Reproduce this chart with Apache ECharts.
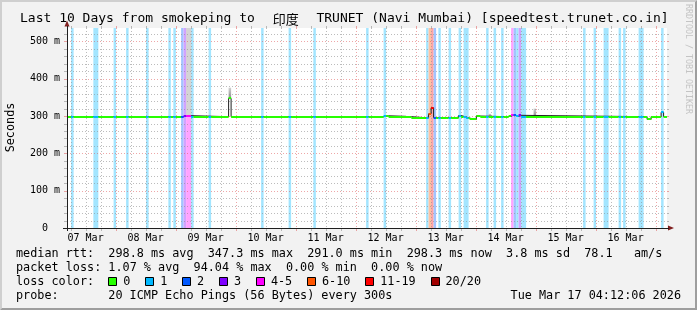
<!DOCTYPE html>
<html>
<head>
<meta charset="utf-8">
<script src="https://cdn.jsdelivr.net/npm/echarts@6/dist/echarts.min.js"></script>
<style>
html,body{margin:0;padding:0;background:#f2f2f2;}
#c{width:697px;height:310px;}
</style>
</head>
<body>
<div id="c"></div>
<script>
// ---------------- data ----------------
// x axis is "hours since 07 Mar 00:00"
const axisStartHour = 4.56;
const axisEndHour = 244.56;
const dayLabels = ['07 Mar','08 Mar','09 Mar','10 Mar','11 Mar','12 Mar','13 Mar','14 Mar','15 Mar','16 Mar'];
const labelHours = [12, 36, 60, 84, 108, 132, 156, 180, 204, 228];
const yMax = 536;                 // ms
const yTickValues = [0, 100, 200, 300, 400, 500];

const lossLabels = ['0','1','2','3','4-5','6-10','11-19','20/20'];
const lossColors = ['#26ff00','#00b8ff','#0059ff','#7e00ff','#ff00ff','#ff5500','#ff0000','#a10000'];

// loss bars: [start hour, duration hours, loss level index]
const lossBars = [
  [6.2,1,1],[15.1,2,1],[23.2,1,1],[28.2,1,1],[36.2,1,1],[45.1,1,1],[47.1,1,1],
  [50.2,1,2],[51.2,1,3],[52.2,2,4],[54.2,1,1],[61.2,1,1],[82.2,1,1],[93.2,1,1],
  [103.1,1,1],[124.2,1,1],[131.2,1,1],[148.2,1,1],[149.2,1,5],[150.2,1,6],[151.2,1,2],
  [153.1,1,1],[157.2,1,1],[161.2,1,1],[163.2,2,1],[172.2,1,1],[175.2,1,1],[178.2,1,1],
  [182.2,1,4],[183.2,1,2],[184.2,1,1],[185.2,1,3],[186.2,2,1],[211.0,1,1],[215.2,1,1],
  [219.2,2,1],[225.2,1,1],[227.0,1,1],[233.2,2,1],[242.2,1,1]
];

// median rtt runs: [start hour, end hour, median ms]
const medianRuns = [
  [4.56,51.2,298.3],[51.2,54.2,301],[54.2,69.2,298.3],[69.2,70.2,347.3],[70.2,131.2,298.3],
  [131.2,133.2,300.5],[133.2,142.3,298.3],[142.3,149.2,295],[149.2,150.2,306],[150.2,151.2,322],
  [151.2,161.2,296],[161.2,162.2,301.5],[162.2,164.2,297.5],[164.2,165.6,294.5],[165.6,168.3,291],
  [168.3,169.9,300],[169.9,181.2,298.3],[181.2,182.2,299.5],[182.2,183.2,302.5],[183.2,184.2,302],
  [184.2,185.2,299],[185.2,186.2,302],[186.2,236.6,298.3],[236.6,238.2,291],[238.2,242.2,298.3],
  [242.2,243.2,310],[243.2,244.56,298.3]
];

// smoke (ping spread): [start hour, end hour, low ms, high ms]
const smokeSpans = [
  [52.2,54.2,301,536],[69.2,70.2,347.3,376],[133.2,140.2,298.3,302],
  [173.2,174.2,298.3,306],[191.2,192.2,298.3,320],[195.2,196.2,298.3,302]
];

const titleParts = ['Last 10 Days from smokeping to ', '印度', ' TRUNET (Navi Mumbai) [speedtest.trunet.co.in]'];
const rttStats = 'median rtt:  298.8 ms avg  347.3 ms max  291.0 ms min  298.3 ms now  3.8 ms sd  78.1   am/s';
const lossStats = 'packet loss: 1.07 % avg  94.04 % max  0.00 % min  0.00 % now';
const probeText = '20 ICMP Echo Pings (56 Bytes) every 300s';
const dateText = 'Tue Mar 17 04:12:06 2026';

// ---------------- rendering ----------------
const FONT = '"DejaVu Sans Mono", monospace';
const GRID_COL = 'rgba(143,143,143,0.6)';
const MGRID_COL = 'rgba(222,79,79,0.5)';
const DASH = [1,2];

function hexRgb(h){ return [1,3,5].map(i=>parseInt(h.slice(i,i+2),16)); }
function pale(h, a){ return 'rgb(' + hexRgb(h).map(v=>Math.round(255-(255-v)*a)).join(',') + ')'; }

// split the median into segments coloured by loss level
const edgeSet = new Set();
medianRuns.forEach(r=>{edgeSet.add(r[0]); edgeSet.add(r[1]);});
lossBars.forEach(b=>{edgeSet.add(b[0]); edgeSet.add(+(b[0]+b[1]).toFixed(3));});
const edges = [...edgeSet].filter(e=>e>=axisStartHour && e<=axisEndHour).sort((a,b)=>a-b);
const medianSegments = [];
for (let i=0;i<edges.length-1;i++){
  const a=edges[i], b=edges[i+1], m=(a+b)/2;
  const run = medianRuns.find(r=>m>=r[0] && m<r[1]);
  if (!run) continue;
  const bar = lossBars.find(x=>m>=x[0] && m<x[0]+x[1]);
  medianSegments.push([a,b,run[2], bar ? bar[2] : 0]);
}
const stepLine = medianRuns.map(r=>[r[0], r[2]]);
stepLine.push([medianRuns[medianRuns.length-1][1], medianRuns[medianRuns.length-1][2]]);

const gridHours = [];
for (let h=6; h<axisEndHour; h+=6) if (h>axisStartHour) gridHours.push(h);
const gridValues = [];
for (let v=20; v<yMax; v+=20) gridValues.push(v);

const chart = echarts.init(document.getElementById('c'), null, {renderer:'canvas'});

const legendY = [254, 268, 282, 296];
const CHW = 7.1;           // monospace advance of legend font
const LX = 16;
const legendFont = '11.8px ' + FONT;

const graphics = [];
// 3D frame
graphics.push({type:'polygon', z:100, silent:true, shape:{points:[[0,0],[697,0],[695,2],[2,2],[2,308],[0,310]]}, style:{fill:'#cfcfcf'}});
graphics.push({type:'polygon', z:100, silent:true, shape:{points:[[697,0],[697,310],[0,310],[2,308],[695,308],[695,2]]}, style:{fill:'#9e9e9e'}});
// title
graphics.push({type:'text', z:100, x:20, y:19, style:{
  text:'{a|'+titleParts[0]+'}{c|'+titleParts[1]+'}{a|'+titleParts[2]+'}',
  verticalAlign:'middle', align:'left',
  rich:{a:{font:'13px '+FONT, fill:'#000'}, c:{font:'13px "Noto Sans CJK SC"', fill:'#000', width:46, align:'center'}}
}});
// y axis name
graphics.push({type:'text', z:100, x:11, y:127.5, rotation:Math.PI/2, style:{text:'Seconds', font:'11.8px '+FONT, fill:'#000', align:'center', verticalAlign:'middle'}});
// watermark
graphics.push({type:'text', z:100, x:688, y:59, rotation:-Math.PI/2, style:{text:'RRDTOOL / TOBI OETIKER', font:'8.3px '+FONT, fill:'#c4c4c4', align:'center', verticalAlign:'middle'}});
// axis arrows
graphics.push({type:'polygon', z:100, silent:true, shape:{points:[[64.5,26.5],[69.5,26.5],[67,20.5]]}, style:{fill:'#801f1f'}});
graphics.push({type:'polygon', z:100, silent:true, shape:{points:[[668,225.5],[668,230.5],[674,228]]}, style:{fill:'#801f1f'}});
graphics.push({type:'line', z:100, silent:true, shape:{x1:67.5,y1:26,x2:67.5,y2:28}, style:{stroke:'#1f1f1f',lineWidth:1}});
graphics.push({type:'line', z:100, silent:true, shape:{x1:667,y1:228.5,x2:669,y2:228.5}, style:{stroke:'#1f1f1f',lineWidth:1}});
graphics.push({type:'line', z:100, silent:true, shape:{x1:63,y1:228.5,x2:67,y2:228.5}, style:{stroke:'#1f1f1f',lineWidth:1}});
graphics.push({type:'line', z:100, silent:true, shape:{x1:67.5,y1:228,x2:67.5,y2:231}, style:{stroke:'#1f1f1f',lineWidth:1}});
// legend lines
function txt(t, x, y){ graphics.push({type:'text', z:100, x:x, y:y, style:{text:t, font:legendFont, fill:'#000', align:'left', verticalAlign:'middle'}}); }
txt(rttStats, LX, legendY[0]);
txt(lossStats, LX, legendY[1]);
txt('loss color:', LX, legendY[2]);
let bx = LX + 13*CHW;
lossLabels.forEach((lab, i)=>{
  graphics.push({type:'rect', z:100, silent:true, shape:{x:Math.round(bx)+0.5, y:legendY[2]-4.5, width:8, height:8}, style:{fill:lossColors[i], stroke:'#000', lineWidth:1}});
  txt(lab, bx + 15, legendY[2]);
  bx = bx + 15 + lab.length*CHW + 14.8;
});
txt('probe:', LX, legendY[3]);
txt(probeText, LX + 13*CHW, legendY[3]);
graphics.push({type:'text', z:100, x:681, y:legendY[3], style:{text:dateText, font:legendFont, fill:'#000', align:'right', verticalAlign:'middle'}});

const option = {
  animation:false,
  backgroundColor:'#f2f2f2',
  grid:{left:67, right:30, top:28, bottom:82, show:true, backgroundColor:'#ffffff', borderWidth:0},
  xAxis:{
    type:'value', min:axisStartHour, max:axisEndHour, z:10,
    axisLine:{show:true, onZero:false, lineStyle:{color:'#1f1f1f', width:1}},
    axisTick:{show:false}, splitLine:{show:false},
    axisLabel:{customValues:labelHours, formatter:v=>dayLabels[labelHours.indexOf(v)] || '', fontFamily:FONT, fontSize:10, color:'#000', margin:5}
  },
  yAxis:{
    type:'value', min:0, max:yMax, z:10,
    axisLine:{show:true, lineStyle:{color:'#1f1f1f', width:1}},
    axisTick:{show:false}, splitLine:{show:false},
    axisLabel:{customValues:yTickValues, formatter:v=> v===0 ? '0  ' : v + ' m', fontFamily:FONT, fontSize:10, color:'#000', margin:7}
  },
  graphic:graphics,
  series:[
    { // loss background bars
      type:'custom', z:1, silent:true,
      data:lossBars,
      renderItem:(p, api)=>{
        const s=api.value(0), d=api.value(1), lvl=api.value(2);
        const a=api.coord([s,yMax]), b=api.coord([s+d,0]);
        return {type:'rect', shape:{x:a[0], y:a[1], width:b[0]-a[0], height:b[1]-a[1]}, style:{fill:pale(lossColors[lvl],0.36)}};
      }
    },
    { // smoke
      type:'custom', z:2, silent:true,
      data:smokeSpans,
      renderItem:(p, api)=>{
        const s=api.value(0), e=api.value(1), lo=api.value(2), hi=api.value(3);
        const a=api.coord([s,hi]), b=api.coord([e,lo]);
        const h=b[1]-a[1];
        const fill = (hi-lo) > 100 ? '#d4d4d4'
          : new echarts.graphic.LinearGradient(0,0,0,1,[{offset:0,color:'#d2d2d2'},{offset:1,color:'#8c8c8c'}]);
        return {type:'rect', shape:{x:a[0], y:a[1], width:b[0]-a[0], height:h}, style:{fill:fill}};
      }
    },
    { // vertical grid lines
      type:'custom', z:3, silent:true, clip:false,
      data:gridHours.map(h=>[h,0]),
      renderItem:(p, api)=>{
        const h=api.value(0), major=(h%24===0);
        const t=api.coord([h,yMax]), b=api.coord([h,0]);
        const x=Math.round(t[0])+0.5, c=major?MGRID_COL:GRID_COL;
        return {type:'group', children:[
          {type:'line', shape:{x1:x,y1:t[1],x2:x,y2:b[1]}, style:{stroke:c, lineWidth:1, lineDash:DASH}},
          {type:'line', shape:{x1:x,y1:b[1],x2:x,y2:b[1]+3}, style:{stroke:c, lineWidth:1}},
          {type:'line', shape:{x1:x,y1:t[1]-2,x2:x,y2:t[1]}, style:{stroke:c, lineWidth:1}}
        ]};
      }
    },
    { // horizontal grid lines
      type:'custom', z:3, silent:true, clip:false,
      data:gridValues.map(v=>[axisStartHour,v]),
      renderItem:(p, api)=>{
        const v=api.value(1), major=(v%100===0);
        const l=api.coord([axisStartHour,v]), r=api.coord([axisEndHour,v]);
        const y=Math.round(l[1])+0.5, c=major?MGRID_COL:GRID_COL;
        return {type:'group', children:[
          {type:'line', shape:{x1:l[0],y1:y,x2:r[0],y2:y}, style:{stroke:c, lineWidth:1, lineDash:DASH}},
          {type:'line', shape:{x1:l[0]-3,y1:y,x2:l[0],y2:y}, style:{stroke:c, lineWidth:1}},
          {type:'line', shape:{x1:r[0],y1:y,x2:r[0]+2,y2:y}, style:{stroke:c, lineWidth:1}}
        ]};
      }
    },
    { // median step line
      type:'line', z:4, silent:true, step:'end', showSymbol:false,
      data:stepLine, lineStyle:{color:'#202020', width:1}
    },
    { // median coloured by loss
      type:'custom', z:5, silent:true,
      data:medianSegments,
      renderItem:(p, api)=>{
        const a=api.coord([api.value(0), api.value(2)]), b=api.coord([api.value(1), api.value(2)]);
        const y=Math.round(a[1])-1;
        return {type:'rect', shape:{x:a[0], y:y, width:b[0]-a[0], height:2}, style:{fill:lossColors[api.value(3)]}};
      }
    }
  ]
};
chart.setOption(option);
</script>
</body>
</html>
